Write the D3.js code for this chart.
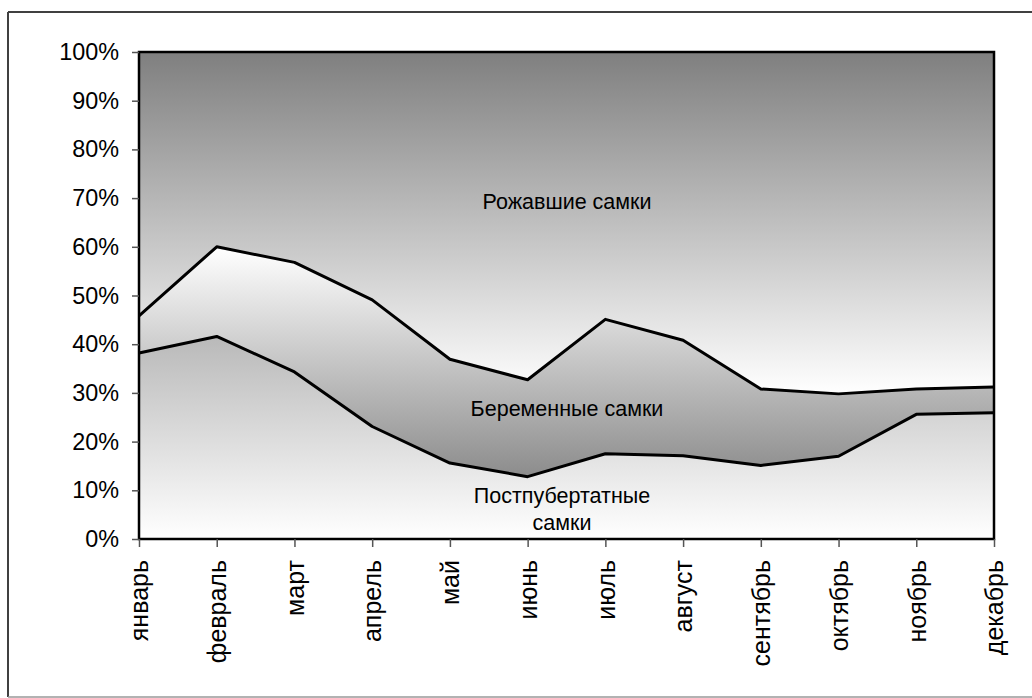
<!DOCTYPE html>
<html>
<head>
<meta charset="utf-8">
<script src="https://cdn.jsdelivr.net/npm/d3@7"></script>
<style>
  body { margin: 0; background: #fff; }
  text { font-family: "Liberation Sans", Arial, sans-serif; fill: #000; }
</style>
</head>
<body>
<script>
// months on the x axis
let Months = ["январь", "февраль", "март", "апрель", "май", "июнь",
    "июль", "август", "сентябрь", "октябрь", "ноябрь", "декабрь"];

// share of each group, %
let Postpubertal = [38.2, 41.6, 34.3, 23.1, 15.6, 12.8, 17.5, 17.1, 15.1, 17.0, 25.6, 25.9];
let Pregnant = [7.6, 18.4, 22.5, 26.0, 21.3, 19.9, 27.6, 23.7, 15.7, 12.8, 5.2, 5.3];
let Birthed = [54.2, 40.0, 43.2, 50.9, 63.1, 67.3, 54.9, 59.2, 69.2, 70.2, 69.2, 68.8];

let YTicks = [0, 10, 20, 30, 40, 50, 60, 70, 80, 90, 100];

let SvgWidth = 1032;
let SvgHeight = 698;

let Svg = d3.select("body")
    .append("svg")
    .attr("width", SvgWidth)
    .attr("height", SvgHeight);

// outer frame of the chart object
Svg.append("line").attr("x1", 8).attr("x2", SvgWidth).attr("y1", 12).attr("y2", 12)
    .attr("stroke", "#404040").attr("stroke-width", 2);
Svg.append("line").attr("x1", 8).attr("x2", 8).attr("y1", 12).attr("y2", 697)
    .attr("stroke", "#404040").attr("stroke-width", 2);
Svg.append("line").attr("x1", 8).attr("x2", SvgWidth).attr("y1", 697).attr("y2", 697)
    .attr("stroke", "#999").attr("stroke-width", 1.5);

let Margin = { Top: 52, Right: 38, Bottom: 159, Left: 139 };
let ChartWidth = SvgWidth - Margin.Left - Margin.Right;
let ChartHeight = SvgHeight - Margin.Top - Margin.Bottom;

let ChartGroup = Svg.append("g")
    .attr("transform", `translate(${Margin.Left},${Margin.Top})`);

let Data = Months.map((m, i) => ({
    month: m,
    post: Postpubertal[i],
    preg: Pregnant[i],
    birth: Birthed[i]
}));

let Stack = d3.stack().keys(["post", "preg", "birth"])
    .offset(d3.stackOffsetExpand);
let Layers = Stack(Data);

let xScale = d3.scalePoint()
    .domain(Months)
    .range([0, ChartWidth]);

let yScale = d3.scaleLinear()
    .domain([0, 1])
    .range([ChartHeight, 0]);

// gradients, one per layer (light/dark like the Excel fills)
let Defs = Svg.append("defs");
let Grads = [
    { id: "gPost", top: "#b9b9b9", bottom: "#ffffff" },
    { id: "gPreg", top: "#ffffff", bottom: "#8c8c8c" },
    { id: "gBirth", top: "#7f7f7f", bottom: "#ffffff" }
];
Grads.forEach(function (g) {
    let lg = Defs.append("linearGradient")
        .attr("id", g.id)
        .attr("x1", 0).attr("y1", 0).attr("x2", 0).attr("y2", 1);
    lg.append("stop").attr("offset", "0%").attr("stop-color", g.top);
    lg.append("stop").attr("offset", "100%").attr("stop-color", g.bottom);
});

let Area = d3.area()
    .x(d => xScale(d.data.month))
    .y0(d => yScale(d[0]))
    .y1(d => yScale(d[1]));

ChartGroup.selectAll("path.layer")
    .data(Layers)
    .enter()
    .append("path")
    .attr("class", "layer")
    .attr("d", Area)
    .attr("fill", (d, i) => `url(#${Grads[i].id})`);

// boundary lines between layers
let Line = d3.line()
    .x(d => xScale(d.data.month))
    .y(d => yScale(d[1]));

ChartGroup.selectAll("path.edge")
    .data(Layers.slice(0, 2))
    .enter()
    .append("path")
    .attr("class", "edge")
    .attr("d", Line)
    .attr("fill", "none")
    .attr("stroke", "#000")
    .attr("stroke-width", 3)
    .attr("stroke-linejoin", "round");

// plot frame
ChartGroup.append("rect")
    .attr("x", 0).attr("y", 0)
    .attr("width", ChartWidth).attr("height", ChartHeight)
    .attr("fill", "none")
    .attr("stroke", "#000")
    .attr("stroke-width", 2.5);

// axes
let LeftAxis = d3.axisLeft(yScale)
    .tickValues(YTicks.map(v => v / 100))
    .tickFormat(d => Math.round(d * 100) + "%")
    .tickSize(7)
    .tickPadding(13);

let yAxisG = ChartGroup.append("g").call(LeftAxis);
yAxisG.select(".domain").remove();
yAxisG.selectAll("line").attr("stroke", "#555").attr("stroke-width", 1.5);
yAxisG.selectAll("text")
    .attr("font-size", 23.4)
    .attr("font-family", "Liberation Sans, Arial, sans-serif")
    .attr("fill", "#000");

let BottomAxis = d3.axisBottom(xScale)
    .tickSize(8)
    .tickPadding(8);

let xAxisG = ChartGroup.append("g")
    .attr("transform", `translate(0,${ChartHeight})`)
    .call(BottomAxis);
xAxisG.select(".domain").remove();
xAxisG.selectAll("line").attr("stroke", "#555").attr("stroke-width", 1.5);
xAxisG.selectAll("text")
    .attr("font-size", 25)
    .attr("font-family", "Liberation Sans, Arial, sans-serif")
    .attr("fill", "#000")
    .attr("text-anchor", "end")
    .attr("dy", "0.35em")
    .attr("transform", "rotate(-90) translate(-21,0)")
    .attr("x", 0).attr("y", 0);

// series labels inside the areas
let Labels = [
    { lines: ["Рожавшие самки"], x: 567, y: 201 },
    { lines: ["Беременные самки"], x: 567, y: 408 },
    { lines: ["Постпубертатные", "самки"], x: 562, y: 495 }
];
Labels.forEach(function (l) {
    l.lines.forEach(function (t, k) {
        Svg.append("text")
            .attr("x", l.x)
            .attr("y", l.y + k * 27)
            .attr("dy", "0.35em")
            .attr("text-anchor", "middle")
            .attr("font-size", 21.5)
            .text(t);
    });
});
</script>
</body>
</html>
